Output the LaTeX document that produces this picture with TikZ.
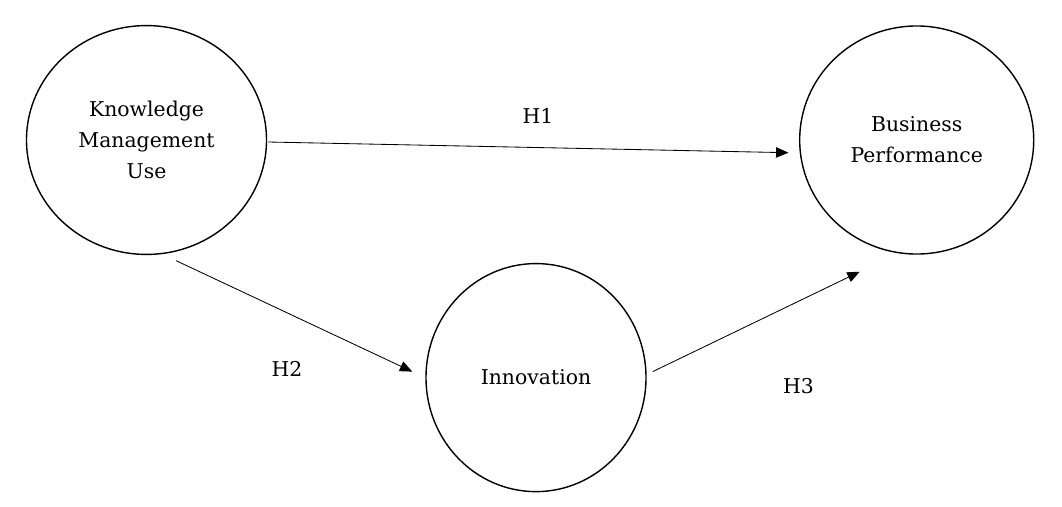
\documentclass[tikz,border=0pt]{standalone}
\usepackage{fontspec}
\setmainfont{DejaVu Serif}
\usetikzlibrary{shapes.geometric,arrows.meta}
\tikzset{
	construct/.style={draw, ellipse, line width=1pt, align=center, inner sep=0pt},
	hyp/.style={line width=0.6pt, -{Triangle[length=3.1mm,width=2.6mm]}},
	hlabel/.style={inner sep=0pt}
}

\begin{document}
\begin{tikzpicture}[x=0.025cm, y=-0.025cm, font=\fontsize{14.5}{22}\selectfont]
			%%%%% START %%%%%
			
			\useasboundingbox (0,0) rectangle (1062,506);
			
			\node[construct, minimum width=6cm, minimum height=5.72cm] (kmu) at (146.5,140) {Knowledge\\Management\\Use};
			\node[construct, minimum width=5.85cm, minimum height=5.7cm] (bp) at (916.7,140) {Business\\Performance};
			\node[construct, minimum width=5.5cm, minimum height=5.7cm] (inn) at (536,377.6) {Innovation};
			
			\draw[hyp] ([shift={(1,2)}]kmu.east) -- ([shift={(-10.5,12.7)}]bp.west);
			\draw[hyp] ([shift={(29.5,5.5)}]kmu.south) -- ([shift={(-13,-6)}]inn.west);
			\draw[hyp] ([shift={(6,-6)}]inn.east) -- ([shift={(-57,17)}]bp.south);
			
			\node[hlabel] (hone) at (538,116) {H1};
			\node[hlabel] (htwo) at (287,369) {H2};
			\node[hlabel] (hthree) at (798.5,386.5) {H3};
			
			%%%%% END %%%%%
\end{tikzpicture}
\end{document}
